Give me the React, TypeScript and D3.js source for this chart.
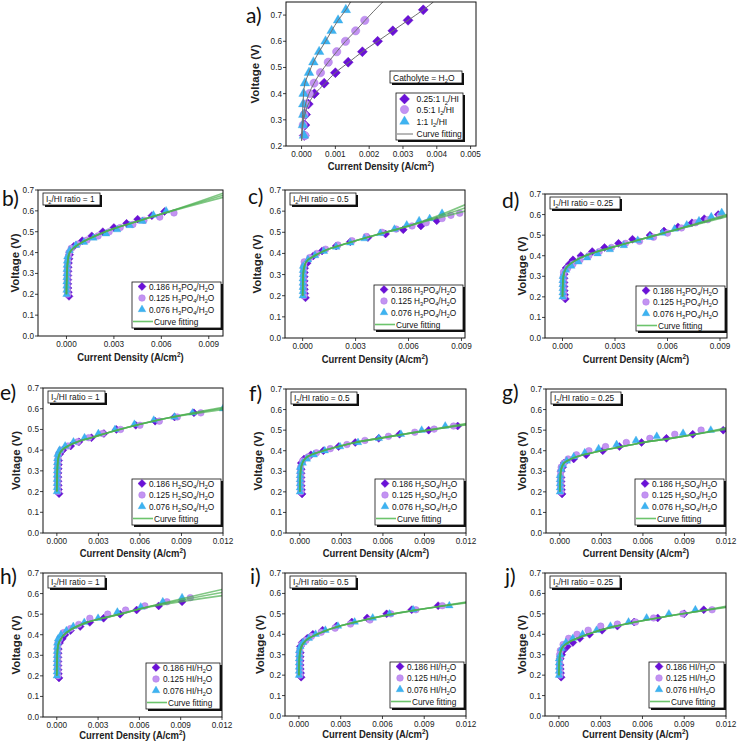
import * as d3 from 'd3';

type Pt = [number, number];
type Part = [string, number]; // 0 normal, 1 subscript, 2 superscript

const FONT = 'Liberation Sans, Arial, Helvetica, sans-serif';
const PURPLE = '#6a10d8';
const LILAC = '#c393f2';
const SKY = '#3db3f1';
const GREEN = '#4caf50';
const GREY = '#707070';

// ticks
const A_X_TICKS = [0, 0.001, 0.002, 0.003, 0.004, 0.005];
const A_Y_TICKS = [0.2, 0.3, 0.4, 0.5, 0.6, 0.7];
const Y_TICKS = [0, 0.1, 0.2, 0.3, 0.4, 0.5, 0.6, 0.7];
const X_TICKS_9 = [0, 0.003, 0.006, 0.009];
const X_TICKS_12 = [0, 0.003, 0.006, 0.009, 0.012];

// panel a, catholyte = H2O  [J (A/cm2), V]
const A_025: Pt[] = [[0.00008, 0.24], [0.0001, 0.28], [0.00012, 0.32], [0.0002, 0.36], [0.00038, 0.4], [0.00067, 0.44], [0.001, 0.48], [0.00138, 0.52], [0.0018, 0.56], [0.00225, 0.6], [0.0027, 0.64], [0.00315, 0.68], [0.0036, 0.72]];
const A_05: Pt[] = [[0.0001, 0.24], [0.00005, 0.28], [0.00008, 0.32], [0.00012, 0.36], [0.00023, 0.4], [0.00037, 0.44], [0.00056, 0.48], [0.00079, 0.52], [0.00104, 0.56], [0.0013, 0.6], [0.0016, 0.64], [0.00187, 0.68]];
const A_1: Pt[] = [[0.00007, 0.24], [0.00004, 0.28], [0.00005, 0.32], [0.00005, 0.36], [0.00006, 0.4], [0.0001, 0.44], [0.00022, 0.48], [0.00035, 0.52], [0.00052, 0.56], [0.00071, 0.6], [0.00089, 0.64], [0.00108, 0.68], [0.00131, 0.72]];
const A_FIT_025: Pt[] = [[0, 0.22], [0.00006, 0.3], [0.00012, 0.33], [0.0002, 0.36], [0.0004, 0.4], [0.0007, 0.44], [0.001, 0.48], [0.0014, 0.52], [0.0018, 0.56], [0.00225, 0.6], [0.0027, 0.64], [0.00315, 0.68], [0.0036, 0.72], [0.0039, 0.75]];
const A_FIT_05: Pt[] = [[0, 0.22], [0.00005, 0.3], [0.0001, 0.35], [0.00022, 0.4], [0.00037, 0.44], [0.00056, 0.48], [0.00079, 0.52], [0.00104, 0.56], [0.0013, 0.6], [0.0016, 0.64], [0.00188, 0.68], [0.0024, 0.75]];
const A_FIT_1: Pt[] = [[0, 0.22], [0.00003, 0.32], [0.00006, 0.4], [0.0001, 0.44], [0.00022, 0.48], [0.00035, 0.52], [0.00052, 0.56], [0.00071, 0.6], [0.00089, 0.64], [0.00108, 0.68], [0.00131, 0.72], [0.00145, 0.75]];

// onset columns (near-zero current) shared by panels b-j
const ONSET_D: Pt[] = [[0.00016, 0.19], [0.00012, 0.21], [0.0001, 0.23], [0.00009, 0.25], [0.00009, 0.27], [0.00009, 0.29], [0.0001, 0.31], [0.00011, 0.33], [0.00013, 0.35], [0.00016, 0.37], [0.0002, 0.39]];
const ONSET_C: Pt[] = [[0.00008, 0.2], [0.00006, 0.22], [0.00005, 0.24], [0.00005, 0.26], [0.00005, 0.28], [0.00005, 0.3], [0.00006, 0.32], [0.00007, 0.34], [0.00009, 0.36], [0.00012, 0.38], [0.00016, 0.4]];
const ONSET_T: Pt[] = [[0.00001, 0.2], [0.00001, 0.22], [0.00001, 0.24], [0.00001, 0.26], [0.00001, 0.28], [0.00002, 0.3], [0.00002, 0.32], [0.00003, 0.34], [0.00004, 0.36], [0.00006, 0.38], [0.00008, 0.4]];

// b) H3PO4, ratio 1
const B_D: Pt[] = [[0.00047, 0.43], [0.001, 0.457], [0.0016, 0.48], [0.0023, 0.5], [0.003, 0.52], [0.0038, 0.54], [0.0045, 0.56], [0.0054, 0.577], [0.0062, 0.597]];
const B_C: Pt[] = [[0.0003, 0.42], [0.0007, 0.44], [0.0013, 0.46], [0.002, 0.48], [0.0027, 0.5], [0.0034, 0.52], [0.0042, 0.535], [0.0049, 0.555], [0.0059, 0.57], [0.0068, 0.59]];
const B_T: Pt[] = [[0.0002, 0.41], [0.0006, 0.435], [0.0011, 0.45], [0.0017, 0.47], [0.0025, 0.49], [0.0032, 0.51], [0.004, 0.53], [0.0048, 0.55], [0.0055, 0.58], [0.0063, 0.6]];
const B_FIT: Pt[] = [[0, 0.2], [0.00003, 0.3], [0.0001, 0.37], [0.0002, 0.4], [0.0005, 0.425], [0.001, 0.45], [0.002, 0.485], [0.003, 0.515], [0.0045, 0.55], [0.006, 0.585]];
const B_FIT_END = [0.685, 0.675, 0.665];

// c) H3PO4, ratio 0.5
const C_D: Pt[] = [[0.00025, 0.354], [0.0006, 0.388], [0.0011, 0.412], [0.0019, 0.435], [0.0027, 0.455], [0.0037, 0.475], [0.0047, 0.492], [0.0057, 0.512], [0.0067, 0.53], [0.0076, 0.555]];
const C_C: Pt[] = [[0.0004, 0.38], [0.0008, 0.4], [0.0013, 0.42], [0.002, 0.44], [0.0028, 0.46], [0.0036, 0.48], [0.0045, 0.5], [0.0053, 0.515], [0.0062, 0.53], [0.007, 0.545], [0.0079, 0.565], [0.0084, 0.58], [0.0089, 0.59]];
const C_T: Pt[] = [[0.0003, 0.37], [0.0007, 0.39], [0.0012, 0.41], [0.0019, 0.43], [0.0027, 0.45], [0.0035, 0.47], [0.0044, 0.495], [0.0052, 0.515], [0.0059, 0.535], [0.0066, 0.555], [0.0072, 0.565], [0.0079, 0.59]];
const C_FIT: Pt[] = [[0, 0.2], [0.00003, 0.3], [0.0001, 0.34], [0.0003, 0.37], [0.0007, 0.39], [0.0013, 0.415], [0.002, 0.435], [0.003, 0.46], [0.0045, 0.495], [0.006, 0.53]];
const C_FIT_END = [0.63, 0.615, 0.6];

// d) H3PO4, ratio 0.25
const D_D: Pt[] = [[0.0002, 0.34], [0.0004, 0.36], [0.0006, 0.38], [0.00105, 0.4], [0.0017, 0.42], [0.0024, 0.44], [0.0032, 0.46], [0.004, 0.48], [0.005, 0.5], [0.0058, 0.52], [0.0066, 0.54], [0.0074, 0.56], [0.0081, 0.58], [0.0089, 0.6]];
const D_C: Pt[] = [[0.0003, 0.34], [0.0006, 0.36], [0.001, 0.38], [0.0015, 0.4], [0.0021, 0.42], [0.0028, 0.44], [0.0036, 0.46], [0.0044, 0.47], [0.0052, 0.49], [0.006, 0.51], [0.0068, 0.535], [0.0076, 0.56], [0.0083, 0.575], [0.009, 0.595]];
const D_T: Pt[] = [[0.0002, 0.33], [0.0005, 0.35], [0.0009, 0.37], [0.0014, 0.39], [0.002, 0.41], [0.0027, 0.43], [0.0035, 0.45], [0.0043, 0.475], [0.005, 0.49], [0.0057, 0.51], [0.0064, 0.53], [0.0071, 0.55], [0.0078, 0.57], [0.0085, 0.59], [0.0091, 0.61]];
const D_FIT: Pt[] = [[0, 0.2], [0.00003, 0.28], [0.0001, 0.32], [0.0003, 0.35], [0.0007, 0.375], [0.0013, 0.4], [0.002, 0.42], [0.003, 0.445], [0.0045, 0.48], [0.006, 0.515]];
const D_FIT_END = [0.6, 0.595, 0.59];

// e) H2SO4, ratio 1
const E_D: Pt[] = [[0.0002, 0.38], [0.00043, 0.4], [0.001, 0.42], [0.0016, 0.44], [0.0025, 0.46], [0.0034, 0.48], [0.0043, 0.5], [0.0057, 0.52], [0.0071, 0.54], [0.0085, 0.56], [0.0099, 0.58]];
const E_C: Pt[] = [[0.0003, 0.4], [0.0008, 0.42], [0.0015, 0.44], [0.0023, 0.46], [0.0033, 0.48], [0.0046, 0.5], [0.006, 0.52], [0.0074, 0.54], [0.0087, 0.56], [0.0104, 0.58]];
const E_T: Pt[] = [[0.0002, 0.4], [0.0006, 0.42], [0.0012, 0.44], [0.002, 0.46], [0.003, 0.48], [0.0042, 0.5], [0.0056, 0.525], [0.007, 0.545], [0.0085, 0.56], [0.0098, 0.58], [0.012, 0.6]];
const E_FIT: Pt[] = [[0, 0.2], [0.00003, 0.3], [0.0001, 0.36], [0.0003, 0.395], [0.0008, 0.42], [0.0015, 0.44], [0.0025, 0.46], [0.004, 0.49], [0.006, 0.525], [0.008, 0.555]];
const E_FIT_END = [0.607, 0.602, 0.597];

// f) H2SO4, ratio 0.5
const F_D: Pt[] = [[0.0001, 0.34], [0.0003, 0.36], [0.0008, 0.38], [0.0017, 0.4], [0.0028, 0.42], [0.004, 0.44], [0.0057, 0.46], [0.0072, 0.48], [0.0093, 0.5], [0.0114, 0.52]];
const F_C: Pt[] = [[0.0002, 0.35], [0.0006, 0.37], [0.0012, 0.39], [0.0022, 0.41], [0.0034, 0.43], [0.0047, 0.45], [0.0064, 0.47], [0.0083, 0.49], [0.0097, 0.505], [0.0111, 0.52]];
const F_T: Pt[] = [[0.0002, 0.34], [0.0005, 0.36], [0.001, 0.38], [0.0018, 0.4], [0.0029, 0.42], [0.0042, 0.44], [0.0057, 0.46], [0.0073, 0.48], [0.0088, 0.5], [0.0105, 0.52]];
const F_FIT: Pt[] = [[0, 0.2], [0.00003, 0.28], [0.0001, 0.32], [0.0003, 0.355], [0.0008, 0.38], [0.0017, 0.4], [0.0028, 0.42], [0.004, 0.44], [0.0057, 0.46], [0.0075, 0.48], [0.0093, 0.5]];
const F_FIT_END = [0.532, 0.528, 0.525];

// g) H2SO4, ratio 0.25
const G_D: Pt[] = [[0.0001, 0.3], [0.0002, 0.32], [0.0003, 0.34], [0.001, 0.36], [0.0019, 0.38], [0.0031, 0.4], [0.0043, 0.42], [0.0059, 0.44], [0.0077, 0.46], [0.0096, 0.48], [0.0118, 0.5]];
const G_C: Pt[] = [[0.0001, 0.32], [0.0003, 0.34], [0.0006, 0.36], [0.0012, 0.38], [0.0021, 0.4], [0.0033, 0.42], [0.0048, 0.44], [0.0065, 0.46], [0.0083, 0.48], [0.0102, 0.5]];
const G_T: Pt[] = [[0.0001, 0.31], [0.0002, 0.33], [0.0005, 0.35], [0.001, 0.37], [0.0018, 0.39], [0.0028, 0.41], [0.0041, 0.43], [0.0055, 0.45], [0.007, 0.47], [0.0089, 0.485], [0.0109, 0.5]];
const G_FIT: Pt[] = [[0, 0.2], [0.00003, 0.27], [0.0001, 0.31], [0.0003, 0.34], [0.0008, 0.36], [0.0017, 0.38], [0.003, 0.4], [0.0045, 0.42], [0.006, 0.44], [0.008, 0.46], [0.0098, 0.48]];
const G_FIT_END = [0.512, 0.508, 0.503];

// h) HI, ratio 1
const H_D: Pt[] = [[0.0002, 0.36], [0.0004, 0.38], [0.0006, 0.4], [0.001, 0.42], [0.0017, 0.44], [0.0024, 0.46], [0.0034, 0.48], [0.0046, 0.5], [0.0058, 0.52], [0.0074, 0.54], [0.0091, 0.56]];
const H_C: Pt[] = [[0.0002, 0.38], [0.0005, 0.41], [0.001, 0.43], [0.0016, 0.45], [0.0024, 0.48], [0.0037, 0.5], [0.005, 0.52], [0.0064, 0.54], [0.008, 0.56], [0.0097, 0.58]];
const H_T: Pt[] = [[0.0001, 0.38], [0.0003, 0.4], [0.0007, 0.42], [0.0012, 0.44], [0.002, 0.46], [0.003, 0.48], [0.0044, 0.51], [0.0061, 0.535], [0.0077, 0.56], [0.0091, 0.58]];
const H_FIT: Pt[] = [[0, 0.2], [0.00003, 0.3], [0.0001, 0.35], [0.0003, 0.38], [0.0007, 0.41], [0.0013, 0.435], [0.0022, 0.46], [0.0033, 0.48], [0.0046, 0.5], [0.006, 0.525]];
const H_FIT_END = [0.62, 0.605, 0.59];

// i) HI, ratio 0.5
const I_D: Pt[] = [[0.0001, 0.34], [0.00024, 0.36], [0.0006, 0.38], [0.001, 0.4], [0.0017, 0.42], [0.0027, 0.44], [0.0038, 0.46], [0.0049, 0.48], [0.0063, 0.5], [0.0081, 0.52], [0.01, 0.54]];
const I_C: Pt[] = [[0.0002, 0.35], [0.0005, 0.37], [0.0009, 0.39], [0.0016, 0.41], [0.0026, 0.43], [0.0037, 0.45], [0.0051, 0.47], [0.0066, 0.5], [0.0084, 0.52], [0.0103, 0.54]];
const I_T: Pt[] = [[0.0001, 0.34], [0.0003, 0.36], [0.0007, 0.38], [0.0012, 0.4], [0.0019, 0.42], [0.0028, 0.44], [0.004, 0.46], [0.0053, 0.48], [0.0065, 0.5], [0.0082, 0.52], [0.0108, 0.54]];
const I_FIT: Pt[] = [[0, 0.2], [0.00003, 0.28], [0.0001, 0.32], [0.0003, 0.355], [0.0007, 0.38], [0.0013, 0.4], [0.0022, 0.425], [0.0035, 0.45], [0.005, 0.475], [0.0068, 0.5], [0.009, 0.525]];
const I_FIT_END = [0.558, 0.556, 0.553];

// j) HI, ratio 0.25
const J_D: Pt[] = [[0.0001, 0.28], [0.0002, 0.3], [0.0003, 0.32], [0.0006, 0.34], [0.001, 0.36], [0.0015, 0.38], [0.0022, 0.4], [0.0031, 0.42], [0.0042, 0.44], [0.0054, 0.46], [0.0071, 0.48], [0.009, 0.5], [0.0104, 0.52]];
const J_C: Pt[] = [[0.0001, 0.32], [0.0003, 0.35], [0.0007, 0.38], [0.0013, 0.4], [0.0021, 0.42], [0.003, 0.44], [0.0042, 0.45], [0.0055, 0.46], [0.0068, 0.48], [0.0089, 0.5], [0.011, 0.52]];
const J_T: Pt[] = [[0.0001, 0.3], [0.0002, 0.33], [0.0005, 0.36], [0.001, 0.38], [0.0017, 0.4], [0.0027, 0.42], [0.0037, 0.44], [0.005, 0.46], [0.0063, 0.48], [0.0079, 0.5], [0.0098, 0.52]];
const J_FIT: Pt[] = [[0, 0.2], [0.00003, 0.27], [0.0001, 0.31], [0.0003, 0.34], [0.0008, 0.365], [0.0015, 0.385], [0.0025, 0.41], [0.0038, 0.435], [0.0055, 0.46], [0.0075, 0.485], [0.0098, 0.51]];
const J_FIT_END = [0.537, 0.534, 0.531];

// legend labels
const CONC = ['0.186', '0.125', '0.076'];
const PO_LABEL = (c: string): Part[] => [[c + ' H', 0], ['3', 1], ['PO', 0], ['4', 1], ['/H', 0], ['2', 1], ['O', 0]];
const SO_LABEL = (c: string): Part[] => [[c + ' H', 0], ['2', 1], ['SO', 0], ['4', 1], ['/H', 0], ['2', 1], ['O', 0]];
const HI_LABEL = (c: string): Part[] => [[c + ' HI/H', 0], ['2', 1], ['O', 0]];
const A_LABELS: Part[][] = [[['0.25:1 I', 0], ['2', 1], ['/HI', 0]], [['0.5:1 I', 0], ['2', 1], ['/HI', 0]], [['1:1 I', 0], ['2', 1], ['/HI', 0]]];
const RATIO = (r: string): Part[] => [['I', 0], ['2', 1], ['/HI ratio = ' + r, 0]];

const withOnset = (onset: Pt[], curve: Pt[]): Pt[] => [...onset.filter((p) => p[1] < curve[0][1] - 0.012), ...curve];
const fitSet = (base: Pt[], xEnd: number, ends: number[]): Pt[][] => ends.map((v) => [...base, [xEnd, v] as Pt]);
const three = (d: Pt[], c: Pt[], t: Pt[]) => [withOnset(ONSET_D, d), withOnset(ONSET_C, c), withOnset(ONSET_T, t)];

interface Cfg {
  tag: string; tagX: number; tagY: number;
  box: [number, number, number, number];
  yTitle: number; xTitle: number;
  xDomain: [number, number]; yDomain: [number, number];
  xTicks: number[]; yTicks: number[];
  series: Pt[][]; fits: Pt[][]; fitColor: string;
  labels: Part[][]; legW: number; legH: number; legRight: number; legBottom: number;
  ratio?: Part[]; ratioW?: number; big?: boolean;
}

const PANELS: Cfg[] = [
  { tag: 'a)', tagX: 246, tagY: 23, box: [286, 2, 476, 146], yTitle: 31, xTitle: 24, xDomain: [-0.00046, 0.00516], yDomain: [0.2, 0.75], xTicks: A_X_TICKS, yTicks: A_Y_TICKS, series: [A_025, A_05, A_1], fits: [A_FIT_025, A_FIT_05, A_FIT_1], fitColor: GREY, labels: A_LABELS, legW: 67, legH: 47, legRight: 13, legBottom: 6, big: true },
  { tag: 'b)', tagX: 2, tagY: 206, box: [38, 190, 223, 336], yTitle: 23, xTitle: 25, xDomain: [-0.0018, 0.0099], yDomain: [0, 0.7], xTicks: X_TICKS_9, yTicks: Y_TICKS, series: three(B_D, B_C, B_T), fits: fitSet(B_FIT, 0.0099, B_FIT_END), fitColor: GREEN, labels: CONC.map(PO_LABEL), legW: 89, legH: 46, legRight: 2, legBottom: 8, ratio: RATIO('1'), ratioW: 57 },
  { tag: 'c)', tagX: 248, tagY: 204, box: [285, 190, 465, 338], yTitle: 28, xTitle: 25, xDomain: [-0.001, 0.0092], yDomain: [0, 0.7], xTicks: X_TICKS_9, yTicks: Y_TICKS, series: three(C_D, C_C, C_T), fits: fitSet(C_FIT, 0.0092, C_FIT_END), fitColor: GREEN, labels: CONC.map(PO_LABEL), legW: 89, legH: 45, legRight: 2, legBottom: 8, ratio: RATIO('0.5'), ratioW: 66 },
  { tag: 'd)', tagX: 502, tagY: 208, box: [545, 194, 727, 338], yTitle: 23, xTitle: 25, xDomain: [-0.001, 0.0094], yDomain: [0, 0.7], xTicks: X_TICKS_9, yTicks: Y_TICKS, series: three(D_D, D_C, D_T), fits: fitSet(D_FIT, 0.0094, D_FIT_END), fitColor: GREEN, labels: CONC.map(PO_LABEL), legW: 89, legH: 45, legRight: 2, legBottom: 7, ratio: RATIO('0.25'), ratioW: 70 },
  { tag: 'e)', tagX: 0, tagY: 400, box: [43, 388, 223, 533], yTitle: 27, xTitle: 24, xDomain: [-0.001, 0.012], yDomain: [0, 0.7], xTicks: X_TICKS_12, yTicks: Y_TICKS, series: three(E_D, E_C, E_T), fits: fitSet(E_FIT, 0.012, E_FIT_END), fitColor: GREEN, labels: CONC.map(SO_LABEL), legW: 89, legH: 46, legRight: 2, legBottom: 8, ratio: RATIO('1'), ratioW: 57 },
  { tag: 'f)', tagX: 249, tagY: 401, box: [286, 389, 466, 533], yTitle: 28, xTitle: 24, xDomain: [-0.001, 0.012], yDomain: [0, 0.7], xTicks: X_TICKS_12, yTicks: Y_TICKS, series: three(F_D, F_C, F_T), fits: fitSet(F_FIT, 0.012, F_FIT_END), fitColor: GREEN, labels: CONC.map(SO_LABEL), legW: 89, legH: 46, legRight: 2, legBottom: 8, ratio: RATIO('0.5'), ratioW: 66 },
  { tag: 'g)', tagX: 502, tagY: 400, box: [546, 389, 726, 533], yTitle: 24, xTitle: 24, xDomain: [-0.001, 0.012], yDomain: [0, 0.7], xTicks: X_TICKS_12, yTicks: Y_TICKS, series: three(G_D, G_C, G_T), fits: fitSet(G_FIT, 0.012, G_FIT_END), fitColor: GREEN, labels: CONC.map(SO_LABEL), legW: 89, legH: 46, legRight: 2, legBottom: 8, ratio: RATIO('0.25'), ratioW: 70 },
  { tag: 'h)', tagX: 0, tagY: 584, box: [43, 573, 222, 717], yTitle: 27, xTitle: 22, xDomain: [-0.001, 0.012], yDomain: [0, 0.7], xTicks: X_TICKS_12, yTicks: Y_TICKS, series: three(H_D, H_C, H_T), fits: fitSet(H_FIT, 0.012, H_FIT_END), fitColor: GREEN, labels: CONC.map(HI_LABEL), legW: 74, legH: 46, legRight: 2, legBottom: 8, ratio: RATIO('1'), ratioW: 57 },
  { tag: 'i)', tagX: 250, tagY: 584, box: [285, 573, 466, 716], yTitle: 25, xTitle: 22, xDomain: [-0.001, 0.012], yDomain: [0, 0.7], xTicks: X_TICKS_12, yTicks: Y_TICKS, series: three(I_D, I_C, I_T), fits: fitSet(I_FIT, 0.012, I_FIT_END), fitColor: GREEN, labels: CONC.map(HI_LABEL), legW: 74, legH: 46, legRight: 2, legBottom: 8, ratio: RATIO('0.5'), ratioW: 66 },
  { tag: 'j)', tagX: 505, tagY: 584, box: [545, 573, 726, 716], yTitle: 23, xTitle: 22, xDomain: [-0.001, 0.012], yDomain: [0, 0.7], xTicks: X_TICKS_12, yTicks: Y_TICKS, series: three(J_D, J_C, J_T), fits: fitSet(J_FIT, 0.012, J_FIT_END), fitColor: GREEN, labels: CONC.map(HI_LABEL), legW: 75, legH: 46, legRight: 2, legBottom: 8, ratio: RATIO('0.25'), ratioW: 70 },
];

function spans(parts: Part[], fs: number) {
  let cur = 0;
  return parts.map(([t, k], i) => {
    const target = k === 1 ? fs * 0.3 : k === 2 ? -fs * 0.4 : 0;
    const dy = target - cur;
    cur = target;
    return (
      <tspan key={i} dy={dy} fontSize={k ? fs * 0.68 : fs}>
        {t}
      </tspan>
    );
  });
}

function Marker({ kind, x, y, big }: { kind: number; x: number; y: number; big?: boolean }) {
  const k = big ? 1.25 : 1;
  if (kind === 0) {
    const d = d3.symbol().type(d3.symbolSquare).size(32 * k * k)() || '';
    return <path d={d} transform={`translate(${x},${y}) rotate(45)`} fill={PURPLE} stroke="#5a08bc" strokeWidth={0.4} />;
  }
  if (kind === 1) {
    return <circle cx={x} cy={y} r={3.3 * k} fill={LILAC} stroke="#ad78e6" strokeWidth={0.5} />;
  }
  const d = d3.symbol().type(d3.symbolTriangle).size(26 * k * k)() || '';
  return <path d={d} transform={`translate(${x},${y})`} fill={SKY} stroke="#2fa0e0" strokeWidth={0.3} />;
}

function ShadowBox({ x, y, w, h }: { x: number; y: number; w: number; h: number }) {
  return (
    <g>
      <rect x={x + 2} y={y + 2} width={w} height={h} fill="#111" />
      <rect x={x} y={y} width={w} height={h} fill="#fff" stroke="#111" strokeWidth={0.8} />
    </g>
  );
}

function Panel({ cfg, idx }: { cfg: Cfg; idx: number }) {
  const [left, top, right, bottom] = cfg.box;
  const x = d3.scaleLinear().domain(cfg.xDomain).range([left, right]);
  const y = d3.scaleLinear().domain(cfg.yDomain).range([bottom, top]);
  const line = d3
    .line<Pt>()
    .x((d) => x(d[0]))
    .y((d) => y(d[1]))
    .curve(d3.curveMonotoneY);
  const fx = d3.format('.3f');
  const fy = d3.format('.1f');
  const clip = `clip-${idx}`;
  const lx = right - cfg.legRight - cfg.legW;
  const ly = bottom - cfg.legBottom - cfg.legH;
  const rows = cfg.big ? [6, 16.5, 28.5, 41] : [4.5, 16, 27.5, 39.5];
  const symX = cfg.big ? 8.5 : 10;
  const txtX = cfg.big ? 20.5 : 17;
  const lfs = cfg.big ? 8.5 : 8.3;
  const cx = (left + right) / 2;

  return (
    <g fontFamily={FONT}>
      <defs>
        <clipPath id={clip}>
          <rect x={left} y={top} width={right - left} height={bottom - top} />
        </clipPath>
      </defs>
      <text x={cfg.tagX} y={cfg.tagY} fontSize={21} fontFamily="Lato, Liberation Sans, sans-serif" fill="#111">
        {cfg.tag}
      </text>

      {/* data */}
      <g clipPath={`url(#${clip})`}>
        {cfg.series.map((s, si) =>
          s.map((p, pi) => <Marker key={`${si}-${pi}`} kind={si} x={x(p[0])} y={y(p[1])} big={cfg.big} />)
        )}
        {cfg.fits.map((f, fi) => (
          <path
            key={fi}
            d={line(f) || ''}
            fill="none"
            stroke={cfg.fitColor}
            strokeWidth={cfg.big ? 1 : 1.6}
            strokeOpacity={cfg.big ? 1 : 0.7}
          />
        ))}
      </g>

      {/* frame + ticks */}
      <rect x={left} y={top} width={right - left} height={bottom - top} fill="none" stroke="#111" strokeWidth={1} />
      {cfg.xTicks.map((t) => (
        <g key={`x${t}`}>
          <line x1={x(t)} x2={x(t)} y1={bottom} y2={bottom + 3} stroke="#111" strokeWidth={0.8} />
          <text x={x(t)} y={bottom + 10.5} fontSize={8.2} textAnchor="middle" fill="#222">
            {fx(t)}
          </text>
        </g>
      ))}
      {cfg.yTicks.map((t) => (
        <g key={`y${t}`}>
          <line x1={left - 3} x2={left} y1={y(t)} y2={y(t)} stroke="#111" strokeWidth={0.8} />
          <text x={left - 4} y={y(t) + 3} fontSize={8.2} textAnchor="end" fill="#222">
            {fy(t)}
          </text>
        </g>
      ))}

      {/* axis titles */}
      <text
        transform={`translate(${cx},${bottom + cfg.xTitle}) scale(0.86,1)`}
        fontSize={11}
        fontWeight="bold"
        textAnchor="middle"
        fill="#222"
      >
        {spans([['Current Density (A/cm', 0], ['2', 2], [')', 0]], 11)}
      </text>
      <text
        transform={`translate(${left - cfg.yTitle + 4},${(top + bottom) / 2}) rotate(-90)`}
        fontSize={11.5}
        fontWeight="bold"
        textAnchor="middle"
        fill="#222"
      >
        Voltage (V)
      </text>

      {/* ratio / catholyte label */}
      {cfg.ratio && (
        <g>
          <ShadowBox x={left + 5} y={top + 3} w={cfg.ratioW || 57} h={12} />
          <text x={left + 8} y={top + 12} fontSize={8.3} fill="#111">
            {spans(cfg.ratio, 8.3)}
          </text>
        </g>
      )}
      {cfg.big && (
        <g>
          <ShadowBox x={right - 86} y={71} w={72} h={12} />
          <text x={right - 83} y={80.5} fontSize={8.5} fill="#111">
            {spans([['Catholyte = H', 0], ['2', 1], ['O', 0]], 8.5)}
          </text>
        </g>
      )}

      {/* legend */}
      <ShadowBox x={lx} y={ly} w={cfg.legW} h={cfg.legH} />
      {cfg.labels.map((lab, i) => (
        <g key={i}>
          <Marker kind={i} x={lx + symX} y={ly + rows[i]} big={cfg.big} />
          <text x={lx + txtX} y={ly + rows[i] + 3} fontSize={lfs} fill="#111">
            {spans(lab, lfs)}
          </text>
        </g>
      ))}
      <line
        x1={lx + 1}
        x2={lx + (cfg.big ? 17 : 21)}
        y1={ly + rows[3]}
        y2={ly + rows[3]}
        stroke={cfg.big ? GREY : '#6cc46c'}
        strokeWidth={cfg.big ? 1 : 1.6}
      />
      <text x={lx + (cfg.big ? 20.5 : 22)} y={ly + rows[3] + 3} fontSize={lfs} fill="#111">
        Curve fitting
      </text>
    </g>
  );
}

export default function App() {
  return (
    <svg
      width={738}
      height={744}
      viewBox="0 0 738 744"
      style={{ position: 'absolute', left: 0, top: 0, background: '#fff' }}
    >
      <rect width={738} height={744} fill="#fff" />
      {PANELS.map((p, i) => (
        <Panel key={p.tag} cfg={p} idx={i} />
      ))}
    </svg>
  );
}
